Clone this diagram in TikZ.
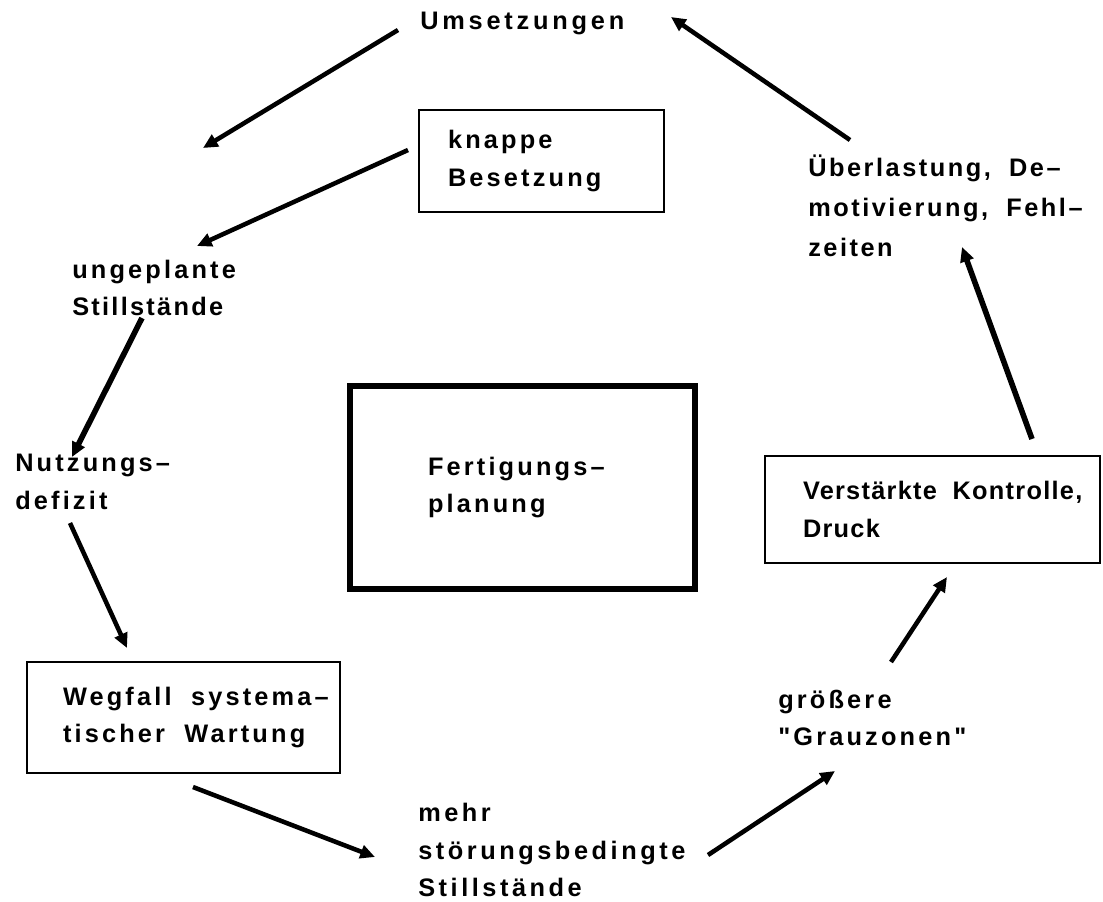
\documentclass[tikz,border=0pt]{standalone}
\usepackage{fontspec}
\setmainfont{Liberation Sans}[Ligatures=TeXOff, LetterSpace=12.5, WordSpace=1.9]
\usetikzlibrary{arrows.meta}
\begin{document}
\begin{tikzpicture}[x=0.75pt,y=-0.75pt,
  every node/.style={font=\fontsize{19}{28}\selectfont\bfseries, inner sep=0pt, align=left},
  ls/.style={font=\fontsize{19}{28}\selectfont\bfseries\addfontfeatures{LetterSpace=#1}},
  txt/.style={anchor=west},
  fontspaces/.style={execute at begin node={\spaceskip=0pt\xspaceskip=0pt\relax}},
  frame/.style={draw, line width=1.1pt, inner ysep=0pt, fontspaces},
  mainframe/.style={draw, line width=3.8pt, inner ysep=0pt, fontspaces},
  flow/.style={-{Triangle[length=11pt,width=10pt]}, line width=3.4pt},
  heavyflow/.style={flow, line width=4.2pt},
]
\useasboundingbox (0,0) rectangle (1103,901);

% centre box
\node[mainframe, minimum width=258.75pt, minimum height=152.25pt,
      inner xsep=58.5pt, text width=141.75pt] (plan) at (522.5,487.5)
  {Fertigungs–\\planung};

% framed stations of the cycle
\node[frame, minimum width=183.75pt, minimum height=76.5pt,
      inner xsep=21.75pt, text width=140.25pt] (knapp) at (541.5,161)
  {knappe\\Besetzung};
\node[frame, minimum width=234.75pt, minimum height=83.25pt,
      inner xsep=27pt, text width=180.75pt] (wegfall) at (183.5,717.5)
  {\mbox{Wegfall systema–}\\\mbox{tischer Wartung}};
\node[frame, ls=5, minimum width=251.25pt, minimum height=80.25pt,
      inner xsep=28.5pt, text width=194.25pt] (kontrolle) at (932.5,509.5)
  {\mbox{Verstärkte Kontrolle,}\\Druck};

% unframed stations
\node[txt, ls=15] (umsetz) at (420,23) {Umsetzungen};
\node[txt] (ungepl) at (72,288) {ungeplante\\\addfontfeatures{LetterSpace=9}Stillstände};
\node[txt] (nutz) at (15,482) {Nutzungs–\\defizit};
\node[txt, ls=14] (stoer) at (418,850) {mehr\\störungsbedingte\\Stillstände};
\node[txt] (grau) at (778,718) {größere\\"Grauzonen"};
\node[txt, font=\fontsize{19}{30}\selectfont\bfseries\addfontfeatures{LetterSpace=10}]
  (ueber) at (808,206) {Überlastung, De–\\motivierung, Fehl–\\zeiten};

% arrow end points
\coordinate (a1s) at (398,30);   \coordinate (a1e) at (203,148);
\coordinate (a2s) at (408,150);  \coordinate (a2e) at (197,246);
\coordinate (a3s) at (142,318);  \coordinate (a3e) at (72,457);
\coordinate (a4s) at (70,523);   \coordinate (a4e) at (127,648);
\coordinate (a5s) at (193,787);  \coordinate (a5e) at (375,857);
\coordinate (a6s) at (708,855);  \coordinate (a6e) at (835,771);
\coordinate (a7s) at (891,662);  \coordinate (a7e) at (947,577);
\coordinate (a8s) at (1032,439); \coordinate (a8e) at (962,247);
\coordinate (a9s) at (850,140);  \coordinate (a9e) at (671,17);

\draw[flow] (a1s) -- (a1e);
\draw[flow] (a2s) -- (a2e);
\draw[heavyflow] (a3s) -- (a3e);
\draw[flow] (a4s) -- (a4e);
\draw[flow] (a5s) -- (a5e);
\draw[flow] (a6s) -- (a6e);
\draw[flow] (a7s) -- (a7e);
\draw[heavyflow] (a8s) -- (a8e);
\draw[flow] (a9s) -- (a9e);
\end{tikzpicture}
\end{document}
